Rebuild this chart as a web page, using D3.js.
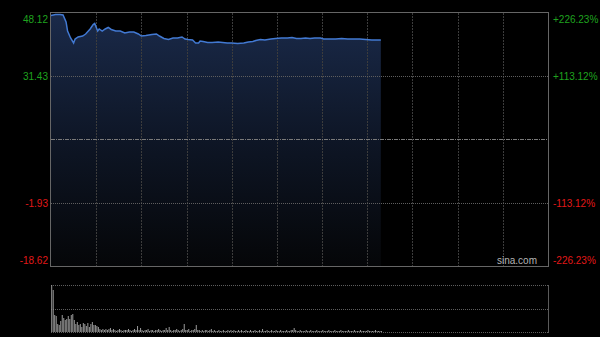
<!DOCTYPE html>
<html><head><meta charset="utf-8">
<script src="https://cdn.jsdelivr.net/npm/d3@7/dist/d3.min.js"></script>
<style>html,body{margin:0;padding:0;background:#000;}svg{display:block;}</style>
</head><body>
<svg id="c" width="600" height="337"></svg>
<script>
// Price samples: minute index from open (HK session, 330 minutes) and price
const minutes = [0,3,6,8,10,11,13,15,16,18,21,23,26,28,29,31,32,34,36,38,40,43,46,49,52,55,58,60,63,67,70,72,75,78,81,84,87,89,91,94,96,98,99,101,104,107,111,114,117,120,124,128,131,134,136,139,142,146,149,153,157,160,163,166,169,172,175,179,181,185,189,193,197,201,205,209,213,219];
const prices = [47.46,47.72,47.72,47.59,45.75,43.37,41.53,40.21,41.26,41.79,42.05,42.58,43.90,45.09,45.35,43.37,43.90,43.37,43.90,44.30,43.77,43.37,43.37,42.84,43.11,43.11,42.58,42.05,42.19,42.45,42.58,42.05,41.39,41.13,41.53,41.53,41.79,41.26,41.13,41.00,40.21,40.21,40.73,40.60,40.34,40.34,40.47,40.34,40.21,40.21,40.07,40.21,40.47,40.60,40.87,41.13,41.00,41.26,41.39,41.53,41.53,41.66,41.39,41.39,41.53,41.39,41.53,41.53,41.26,41.26,41.26,41.39,41.26,41.26,41.26,41.13,41.00,41.00];
// Per-minute volume (relative units)
const volumes = [
470,420,170,160,80,70,110,170,140,120,
130,160,130,170,180,120,80,100,70,80,
50,90,80,60,90,50,80,100,70,70,
60,50,30,20,30,20,30,20,30,40,
20,30,20,10,20,30,20,10,20,20,
20,30,20,10,20,30,20,60,20,40,
20,10,20,20,30,10,20,20,10,20,
20,30,20,10,20,20,40,20,50,20,
10,20,20,30,20,10,20,30,80,20,
20,30,10,20,20,30,70,20,20,10,
20,10,20,20,10,20,30,10,20,10,
10,20,10,10,20,10,10,20,10,20,
10,20,10,10,20,10,20,10,10,20,
10,10,20,10,10,20,10,10,20,10,
30,10,10,20,10,10,20,10,10,20,
10,10,20,10,10,10,20,10,10,20,
20,40,20,10,10,20,10,10,10,20,
10,10,20,10,10,10,20,10,10,10,
20,10,10,10,20,10,10,10,20,10,
10,10,20,10,10,10,10,20,10,10,
10,20,10,10,10,20,10,10,10,10,
20,10,10,10,10,20,10,10,10,10];
const prevClose = 14.75;
const priceTicks = [48.12, 31.43, 14.75, -1.93, -18.62];
const pctLabels = ["+226.23%", "+113.12%", "", "-113.12%", "-226.23%"];
const priceLabels = ["48.12", "31.43", "", "-1.93", "-18.62"];
const sessionMinutes = 330;
const timeGrid = d3.range(1, 11).map(i => i * 30);

const svg = d3.select("#c");
const L = 51, R = 548, T = 13, B = 266;
const VT = 285, VB = 332;
const x = d3.scaleLinear().domain([0, sessionMinutes]).range([L, R]);
const y = d3.scaleLinear().domain([-18.62, 48.12]).range([B, T]);
const yv = d3.scaleLinear().domain([0, d3.max(volumes)]).range([VB, VT]);

svg.append("rect").attr("width", 600).attr("height", 337).attr("fill", "#000");

const defs = svg.append("defs");
const g = defs.append("linearGradient").attr("id", "fillg")
  .attr("gradientUnits", "userSpaceOnUse").attr("x1", 0).attr("x2", 0).attr("y1", T).attr("y2", B);
g.append("stop").attr("offset", "0").attr("stop-color", "#1a2a4a");
g.append("stop").attr("offset", "0.5").attr("stop-color", "#0e1626");
g.append("stop").attr("offset", "1").attr("stop-color", "#050608");

const data = minutes.map((m, i) => ({m, p: prices[i]}));

// area fill
svg.append("path").datum(data)
  .attr("d", d3.area().x(d => x(d.m)).y0(B).y1(d => y(d.p)))
  .attr("fill", "url(#fillg)");

// vertical grid
svg.selectAll(".vg").data(timeGrid).enter().append("line")
  .attr("x1", d => Math.round(x(d)) + 0.5).attr("x2", d => Math.round(x(d)) + 0.5)
  .attr("y1", T).attr("y2", B)
  .attr("stroke", "#3c3c3c").attr("stroke-width", 1).attr("stroke-dasharray", "2,1");

// horizontal grid
priceTicks.forEach((v, i) => {
  if (i === 0 || i === 4) return;
  const yy = Math.round(y(v)) + 0.5;
  svg.append("line").attr("x1", L).attr("x2", R).attr("y1", yy).attr("y2", yy)
    .attr("stroke", v === prevClose ? "#7a7a7a" : "#5e5e5e").attr("stroke-width", 1)
    .attr("stroke-dasharray", v === prevClose ? "4,1,1,1" : "1,1");
});

// price line
svg.append("path").datum(data)
  .attr("d", d3.line().x(d => x(d.m)).y(d => y(d.p)))
  .attr("fill", "none").attr("stroke", "#4279d2").attr("stroke-width", 1.5);

// border
svg.append("rect").attr("x", L - 0.5).attr("y", T - 0.5).attr("width", R - L + 1).attr("height", B - T + 1)
  .attr("fill", "none").attr("stroke", "#666").attr("stroke-width", 1);

// labels
const labelOffset = [10, 4, 4, 4, -2];
priceTicks.forEach((v, i) => {
  if (!priceLabels[i]) return;
  const col = v > prevClose ? "#1fa31f" : "#e21818";
  svg.append("text").attr("x", 48).attr("y", y(v) + labelOffset[i])
    .attr("text-anchor", "end").attr("fill", col)
    .attr("font-family", "Arial, 'Liberation Sans', sans-serif").attr("font-size", 10)
    .text(priceLabels[i]);
  svg.append("text").attr("x", 553).attr("y", y(v) + labelOffset[i])
    .attr("text-anchor", "start").attr("fill", col)
    .attr("font-family", "Arial, 'Liberation Sans', sans-serif").attr("font-size", 10)
    .text(pctLabels[i]);
});

svg.append("text").attr("x", 537).attr("y", 264).attr("text-anchor", "end")
  .attr("fill", "#b4b4b4").attr("font-family", "Arial, 'Liberation Sans', sans-serif").attr("font-size", 10)
  .text("sina.com");

// volume panel grid
[VT, (VT + VB) / 2, VB].forEach(v => {
  const yy = Math.round(v) + 0.5;
  svg.append("line").attr("x1", L).attr("x2", R).attr("y1", yy).attr("y2", yy)
    .attr("stroke", "#5e5e5e").attr("stroke-width", 1).attr("stroke-dasharray", "1,1");
});
svg.append("line").attr("x1", R + 0.5).attr("x2", R + 0.5).attr("y1", VT).attr("y2", VB + 1)
  .attr("stroke", "#5a5a5a").attr("stroke-width", 1);

// volume bars
svg.selectAll(".vb").data(volumes).enter().append("rect")
  .attr("x", (d, i) => x(i) + 0.2)
  .attr("y", d => yv(d))
  .attr("width", 1)
  .attr("height", d => VB - yv(d))
  .attr("fill", "#9a9a9a");
</script>
</body></html>
